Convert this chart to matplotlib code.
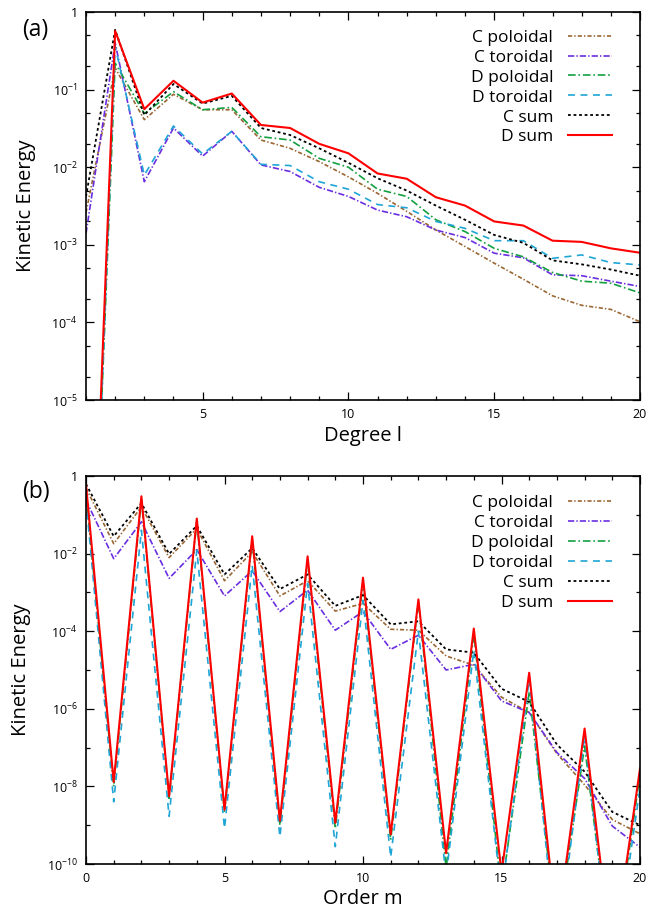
import matplotlib
matplotlib.use('Agg')
import matplotlib.pyplot as plt
from matplotlib.ticker import FixedLocator, FuncFormatter, NullFormatter
import numpy as np

plt.rcParams['font.family'] = ['Open Sans', 'DejaVu Sans']
plt.rcParams['mathtext.default'] = 'regular'
plt.rcParams['lines.scale_dashes'] = False

# ---------------- panel (a): spectrum vs degree l ----------------
degree_l = list(range(1, 21))
a_c_poloidal = [2.6e-3, 0.19, 0.041, 0.087, 0.055, 0.055, 0.0224, 0.0175, 0.0118, 0.0075,
                0.0046, 0.0027, 0.00155, 0.00095, 0.00058, 0.00036, 0.00022, 0.000166, 0.000147, 0.000102]
a_c_toroidal = [1.4e-3, 0.40, 0.0065, 0.032, 0.0139, 0.029, 0.0107, 0.0088, 0.0055, 0.0042,
                0.0028, 0.0023, 0.00155, 0.00124, 0.00078, 0.00068, 0.00041, 0.00040, 0.00034, 0.00029]
a_d_poloidal = [8e-11, 0.22, 0.049, 0.094, 0.055, 0.059, 0.0247, 0.0224, 0.013, 0.0100,
                0.0052, 0.0042, 0.0021, 0.00148, 0.00090, 0.00070, 0.00044, 0.00034, 0.00032, 0.00024]
a_d_toroidal = [5e-11, 0.36, 0.0079, 0.034, 0.0148, 0.029, 0.0109, 0.0105, 0.0065, 0.0052,
                0.0033, 0.0030, 0.0020, 0.00163, 0.00113, 0.00113, 0.00067, 0.00074, 0.00059, 0.00055]
a_c_sum = [4.2e-3, 0.59, 0.047, 0.118, 0.066, 0.083, 0.032, 0.026, 0.0175, 0.0114,
           0.0072, 0.0050, 0.0032, 0.0021, 0.00134, 0.00106, 0.00063, 0.00056, 0.00048, 0.00040]
a_d_sum = [1.3e-10, 0.57, 0.056, 0.13, 0.068, 0.089, 0.035, 0.032, 0.020, 0.0151,
           0.0083, 0.0071, 0.0041, 0.0032, 0.0020, 0.00177, 0.00113, 0.00109, 0.00090, 0.00079]

# ---------------- panel (b): spectrum vs order m ----------------
order_m = list(range(0, 21))
b_c_poloidal = [0.49, 0.018, 0.16, 0.0079, 0.044, 0.0020, 0.011, 8.1e-4, 2.0e-3, 3.3e-4, 5.2e-4,
                1.12e-4, 1.06e-4, 2.3e-5, 1.33e-5, 2.0e-6, 8e-7, 7e-8, 1.1e-8, 1.4e-9, 6e-10]
b_c_toroidal = [0.24, 0.0074, 0.066, 0.0023, 0.0126, 8.1e-4, 0.0036, 3.2e-4, 1.14e-3, 1.06e-4, 3.2e-4,
                3.4e-5, 7.9e-5, 1.0e-5, 1.4e-5, 1.6e-6, 8e-7, 7.5e-8, 1.6e-8, 9.5e-10, 2.7e-10]
b_d_poloidal = [0.36, 1.0e-8, 0.25, 4.9e-9, 0.068, 2.2e-9, 0.023, 1.0e-9, 0.0068, 8.3e-10, 0.0018,
                4.2e-10, 5.6e-4, 8e-11, 8.5e-5, 2e-11, 2.7e-6, 1.5e-12, 1.1e-7, 2e-13, 2e-8]
b_d_toroidal = [0.24, 4e-9, 0.04, 1.7e-9, 0.012, 8.3e-10, 0.005, 5e-10, 0.0017, 2.8e-10, 6.3e-4,
                1.5e-10, 1e-4, 5e-11, 3.2e-5, 1.6e-11, 5.8e-6, 5e-13, 2e-7, 1e-13, 9e-9]
b_c_sum = [0.62, 0.028, 0.2, 0.0098, 0.052, 0.0029, 0.0138, 0.00122, 0.0029, 4.5e-4, 8.5e-4,
           1.5e-4, 1.8e-4, 3.4e-5, 2.8e-5, 3.3e-6, 1.5e-6, 1.2e-7, 2.4e-8, 2.2e-9, 1.0e-9]
b_d_sum = [0.6, 1.3e-8, 0.30, 5.6e-9, 0.080, 2.5e-9, 0.028, 1.3e-9, 0.0085, 1.15e-9, 0.0024,
           5.8e-10, 6.6e-4, 1.9e-10, 1.17e-4, 6e-11, 8.5e-6, 2e-12, 3.1e-7, 3e-13, 2.9e-8]

labels = ['C poloidal', 'C toroidal', 'D poloidal', 'D toroidal', 'C sum', 'D sum']
styles = [
    dict(color='#9a6633', lw=1.2, dashes=(3, 1.5, 1, 1.5)),
    dict(color='#6a2ee0', lw=1.2, dashes=(4.5, 1.5, 1, 1.5)),
    dict(color='#12a040', lw=1.2, dashes=(5.5, 2, 1.2, 2)),
    dict(color='#1fa6d6', lw=1.2, dashes=(5, 4)),
    dict(color='#000000', lw=1.3, dashes=(2, 2)),
    dict(color='#ff0000', lw=1.5, linestyle='-'),
]


def log_label(v, pos):
    if v <= 0:
        return ''
    e = int(round(np.log10(v)))
    if e == 0:
        return '1'
    return r'$10^{%d}$' % e


def style_axes(ax):
    for s in ax.spines.values():
        s.set_linewidth(1.2)
    ax.tick_params(which='both', direction='in', top=True, right=True, width=0.9,
                   labelsize=9, pad=6)
    ax.tick_params(which='major', length=6)
    ax.tick_params(which='minor', length=3)


legend_kw = dict(loc='upper right', frameon=False, markerfirst=False, alignment='right',
                 fontsize=12.5, handlelength=2.55, handletextpad=0.85, labelspacing=0.22,
                 borderpad=0, borderaxespad=0)

fig = plt.figure(figsize=(6.6, 9.08), dpi=100)

# panel (a)
ax1 = fig.add_axes([86 / 660, 1 - 400 / 908, 554 / 660, 388 / 908])
series_a = [a_c_poloidal, a_c_toroidal, a_d_poloidal, a_d_toroidal, a_c_sum, a_d_sum]
for y, lab, st in zip(series_a, labels, styles):
    ax1.plot(degree_l, y, label=lab, **st)
ax1.set_yscale('log')
ax1.set_xlim(1, 20)
ax1.set_ylim(1e-5, 1)
ax1.xaxis.set_major_locator(FixedLocator([5, 10, 15, 20]))
ax1.xaxis.set_minor_locator(FixedLocator(list(range(1, 21))))
ax1.yaxis.set_major_locator(FixedLocator([10.0 ** e for e in range(-5, 1)]))
ax1.yaxis.set_minor_locator(FixedLocator([m * 10.0 ** e for e in range(-5, 0) for m in (2, 5)]))
ax1.yaxis.set_major_formatter(FuncFormatter(log_label))
ax1.yaxis.set_minor_formatter(NullFormatter())
style_axes(ax1)
ax1.set_xlabel('Degree l', fontsize=14.5, labelpad=3)
ax1.set_ylabel('Kinetic Energy', fontsize=14.5, labelpad=11)
fig.text(22 / 660, 1 - 30 / 908, '(a)', fontsize=16.5, va='center', ha='left')
ax1.legend(bbox_to_anchor=(0.95, 0.955), **legend_kw)

# panel (b)
ax2 = fig.add_axes([86 / 660, 1 - 864 / 908, 554 / 660, 388 / 908])
series_b = [b_c_poloidal, b_c_toroidal, b_d_poloidal, b_d_toroidal, b_c_sum, b_d_sum]
for y, lab, st in zip(series_b, labels, styles):
    ax2.plot(order_m, y, label=lab, **st)
ax2.set_yscale('log')
ax2.set_xlim(0, 20)
ax2.set_ylim(1e-10, 1)
ax2.xaxis.set_major_locator(FixedLocator([0, 5, 10, 15, 20]))
ax2.xaxis.set_minor_locator(FixedLocator(list(range(0, 21))))
ax2.yaxis.set_major_locator(FixedLocator([10.0 ** e for e in range(-10, 1, 2)]))
ax2.yaxis.set_minor_locator(FixedLocator([10.0 ** e for e in range(-9, 0, 2)]))
ax2.yaxis.set_major_formatter(FuncFormatter(log_label))
ax2.yaxis.set_minor_formatter(NullFormatter())
style_axes(ax2)
ax2.set_xlabel('Order m', fontsize=14.5, labelpad=3)
ax2.set_ylabel('Kinetic Energy', fontsize=14.5, labelpad=11)
fig.text(22 / 660, 1 - 492 / 908, '(b)', fontsize=16.5, va='center', ha='left')
ax2.legend(bbox_to_anchor=(0.95, 0.952), **legend_kw)

fig.savefig('out.png', dpi=100)
